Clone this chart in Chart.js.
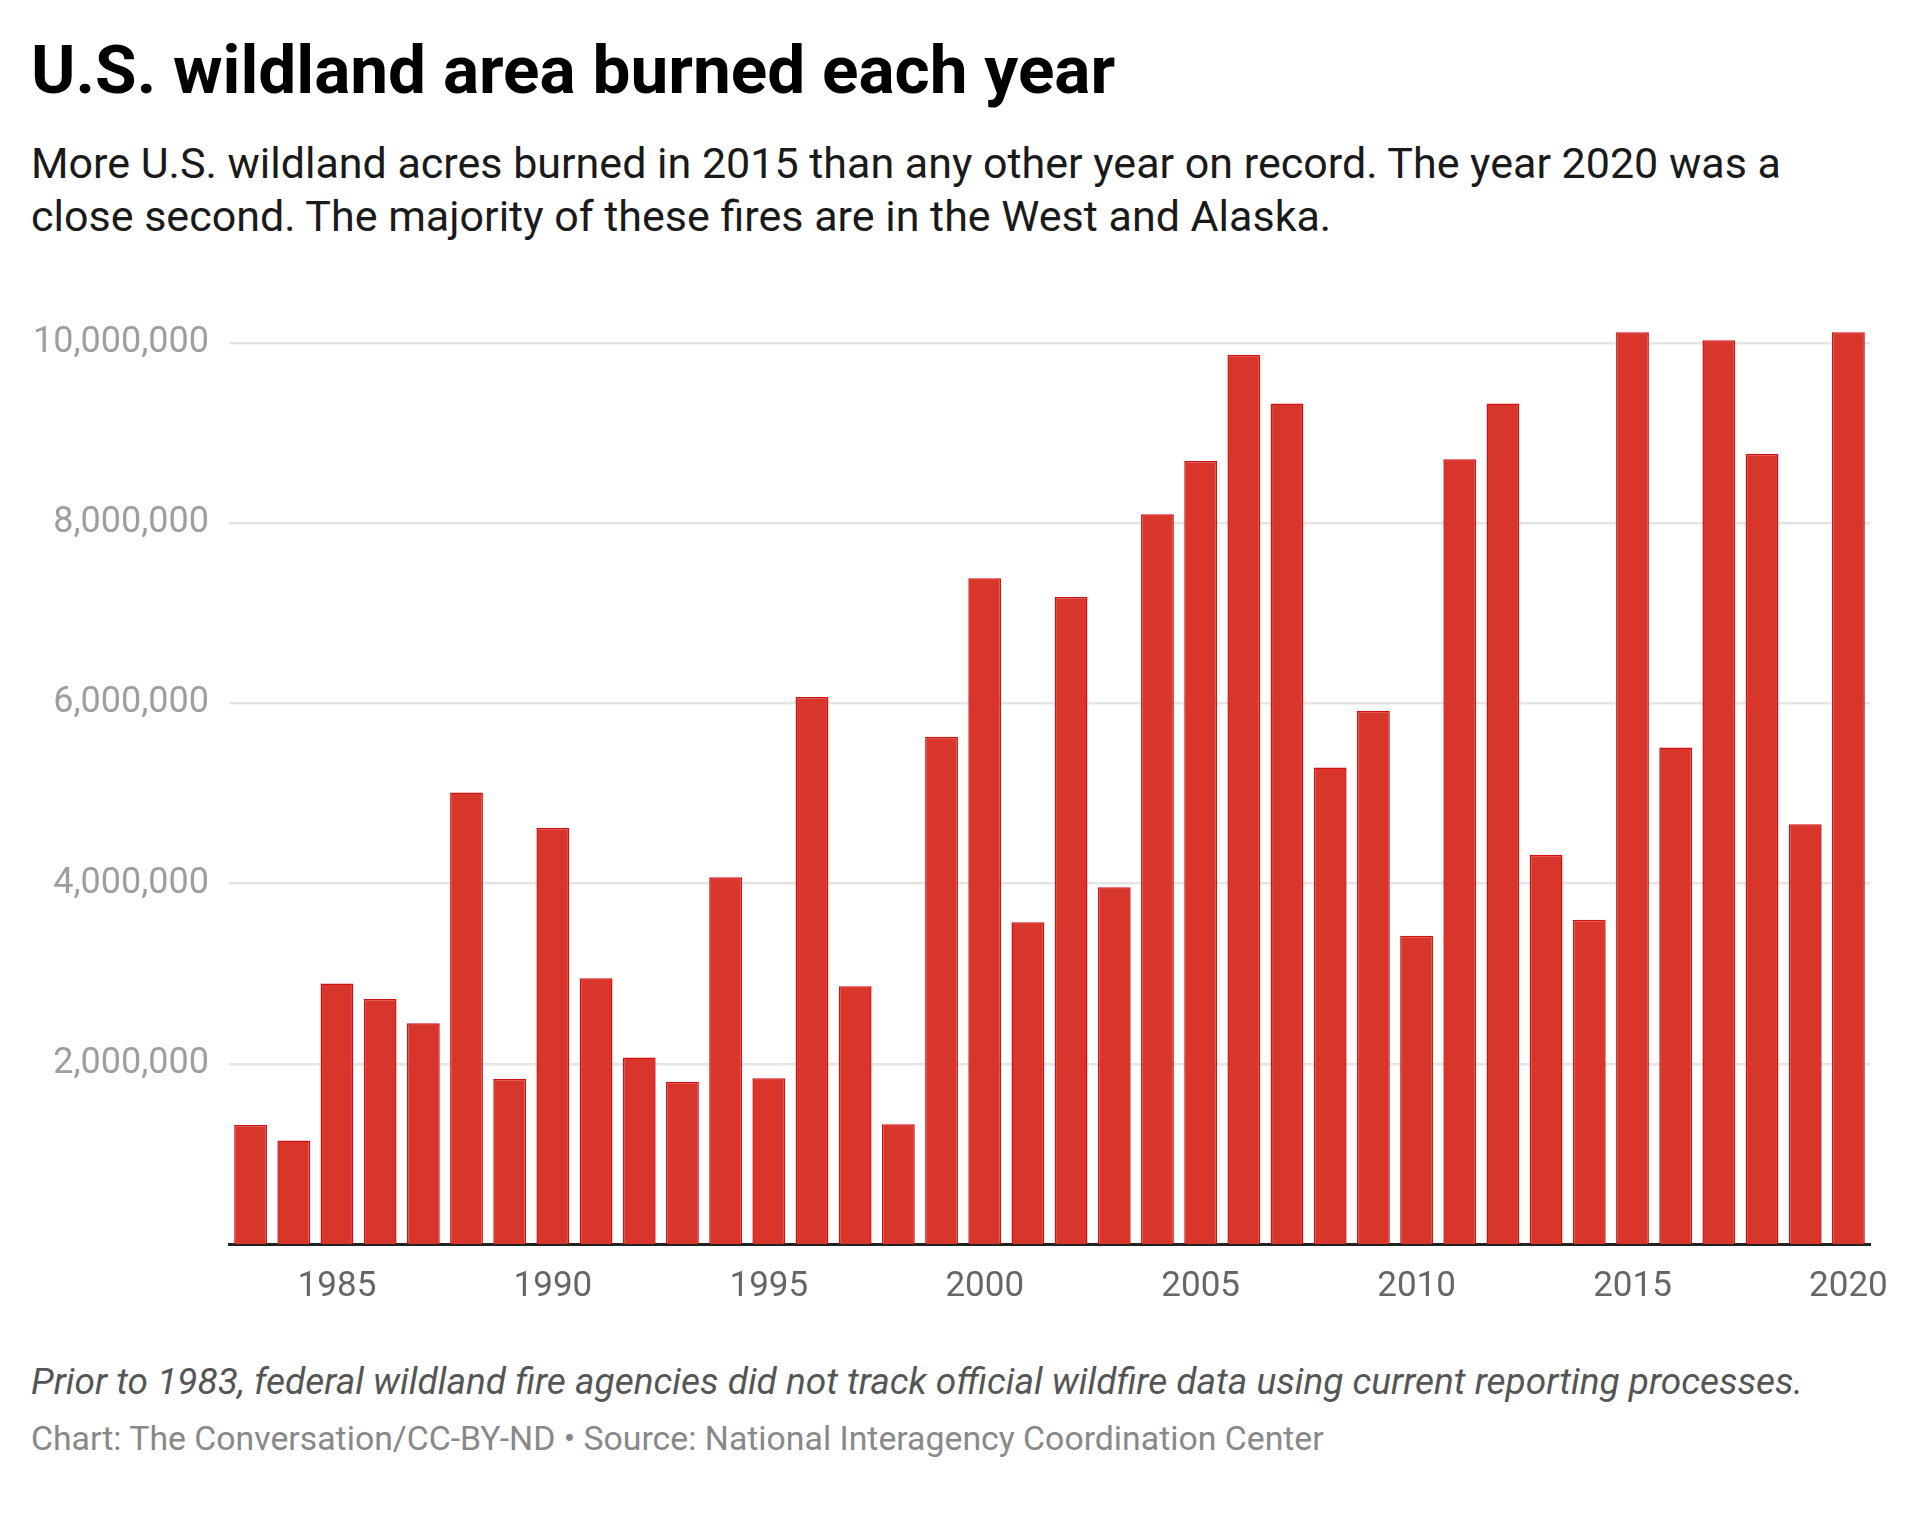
<!DOCTYPE html>
<html>
<head>
<meta charset="utf-8">
<title>U.S. wildland area burned each year</title>
<script src="https://cdn.jsdelivr.net/npm/chart.js@4.4.1/dist/chart.umd.min.js"></script>
<style>
  html, body { margin: 0; padding: 0; background: #fff; }
  body { width: 1920px; height: 1521px; position: relative; font-family: Roboto, "Noto Sans", sans-serif; }
  .txt { position: absolute; left: 31px; white-space: nowrap; }
  #title { top: 28px; font-size: 67.5px; line-height: 83px; font-weight: 700; color: #000; }
  #subtitle { top: 137px; font-size: 43px; line-height: 53px; color: #1a1a1a; }
  #note { top: 1360px; font-size: 37px; line-height: 44px; font-style: italic; color: #555; }
  #credit { top: 1419px; font-size: 33.8px; line-height: 40px; color: #888; }
  #chartBox { position: absolute; left: 0; top: 250px; width: 1920px; height: 1100px; }
</style>
</head>
<body>
<div class="txt" id="title">U.S. wildland area burned each year</div>
<div class="txt" id="subtitle">More U.S. wildland acres burned in 2015 than any other year on record. The year 2020 was a<br>close second. The majority of these fires are in the West and Alaska.</div>
<div id="chartBox"><canvas id="myChart"></canvas></div>
<div class="txt" id="note">Prior to 1983, federal wildland fire agencies did not track official wildfire data using current reporting processes.</div>
<div class="txt" id="credit">Chart: The Conversation/CC-BY-ND • Source: National Interagency Coordination Center</div>

<script>
'use strict';

//Data
let years = ['1983', '1984', '1985', '1986', '1987', '1988', '1989', '1990', '1991', '1992',
  '1993', '1994', '1995', '1996', '1997', '1998', '1999', '2000', '2001', '2002',
  '2003', '2004', '2005', '2006', '2007', '2008', '2009', '2010', '2011', '2012',
  '2013', '2014', '2015', '2016', '2017', '2018', '2019', '2020'];

let acresBurned = [1320000, 1150000, 2890000, 2720000, 2450000, 5010000, 1830000, 4620000, 2950000, 2070000,
  1800000, 4070000, 1840000, 6070000, 2860000, 1330000, 5630000, 7390000, 3570000, 7180000,
  3960000, 8100000, 8690000, 9870000, 9330000, 5290000, 5920000, 3420000, 8710000, 9330000,
  4320000, 3600000, 10120000, 5510000, 10030000, 8770000, 4660000, 10120000];

let yTicks = [2000000, 4000000, 6000000, 8000000, 10000000];
let xTickYears = ['1985', '1990', '1995', '2000', '2005', '2010', '2015', '2020'];

let barColor = '#d8352b';
let barBorder = '#cf1111';

let ctx = document.getElementById('myChart').getContext('2d');
new Chart(ctx, {
  type: 'bar',
  data: {
    labels: years,
    datasets: [{
      label: 'Acres burned',
      data: acresBurned,
      backgroundColor: barColor,
      borderColor: barBorder,
      borderWidth: 1.5,
      categoryPercentage: 1,
      barPercentage: 0.76
    }]
  },
  options: {
    responsive: true,
    maintainAspectRatio: false,
    animation: false,
    layout: {
      padding: { top: 66, right: 50, left: 0, bottom: 0 }
    },
    plugins: {
      legend: { display: false },
      tooltip: { enabled: false }
    },
    scales: {
      x: {
        grid: { display: false, drawTicks: false },
        border: { display: true, color: '#222', width: 3 },
        ticks: {
          autoSkip: false,
          maxRotation: 0,
          minRotation: 0,
          padding: 22,
          color: '#666',
          font: { family: 'Roboto', size: 35 },
          callback: function(value) {
            let year = this.getLabelForValue(value);
            return xTickYears.includes(year) ? year : '';
          }
        },
        afterFit: function(scale) {
          scale.height = 106;
        }
      },
      y: {
        min: 0,
        max: 10300000,
        border: { display: false },
        grid: { color: '#e5e5e5', lineWidth: 2.5, drawTicks: false },
        ticks: {
          padding: 20,
          color: '#9e9e9e',
          font: { family: 'Roboto', size: 36 },
          callback: function(value) {
            return value.toLocaleString('en-US');
          }
        },
        afterBuildTicks: function(scale) {
          scale.ticks = yTicks.map(v => ({ value: v }));
        },
        afterFit: function(scale) {
          scale.width = 229;
        }
      }
    }
  }
});
</script>
</body>
</html>
